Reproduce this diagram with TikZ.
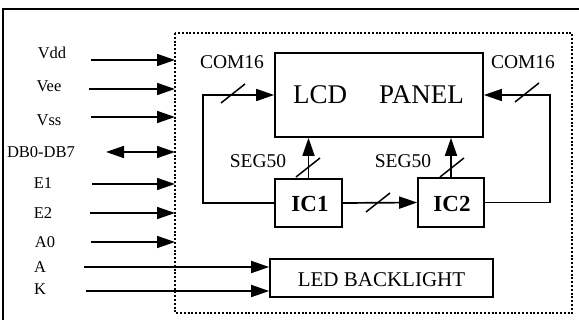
\documentclass[tikz,border=0pt]{standalone}
\usepackage{fontspec}
\setmainfont{Liberation Serif}
\usetikzlibrary{arrows.meta}
\begin{document}
\begin{tikzpicture}[x=1pt,y=-1pt,
  wire/.style={line width=1.7pt},
  arr/.style={wire,-{Triangle[length=18pt,width=12pt]}},
  darr/.style={wire,{Triangle[length=18pt,width=12pt]}-{Triangle[length=18pt,width=12pt]}},
  blk/.style={draw,line width=1.7pt,inner sep=0pt},
  sig/.style={anchor=base,font=\fontsize{16.5}{18}\selectfont,inner sep=0pt},
  lbl/.style={anchor=base,font=\fontsize{19.5}{22}\selectfont,inner sep=0pt},
  slash/.style={line width=1.5pt}]
\useasboundingbox (0,0) rectangle (579,320);
% outer frame
\draw[line width=1.6pt] (3,330) -- (3,9) -- (590,9);
% dotted module border
\draw[line width=2pt,dash pattern=on 2pt off 1.8pt] (175,33) rectangle (572,313);
% blocks
\node[blk,minimum width=208pt,minimum height=84pt] (lcd) at (379,95) {};
\node[anchor=base,font=\fontsize{27}{30}\selectfont,inner sep=0pt] (lcdt) at (378.5,104) {LCD\hspace{32pt}PANEL};
\node[blk,minimum width=67pt,minimum height=48pt] (ic1) at (308.5,203) {};
\node[anchor=base,font=\fontsize{23}{26}\selectfont\bfseries,inner sep=0pt] (ic1t) at (310,212) {IC1};
\node[blk,minimum width=66pt,minimum height=49pt] (ic2) at (451,202.5) {};
\node[anchor=base,font=\fontsize{23}{26}\selectfont\bfseries,inner sep=0pt] (ic2t) at (452,212) {IC2};
\node[blk,minimum width=223pt,minimum height=38pt] (led) at (381.5,278) {};
\node[anchor=base,font=\fontsize{21}{24}\selectfont,inner sep=0pt] (ledt) at (381.5,287) {LED BACKLIGHT};
% labels
\node[sig] (vdd) at (52,59) {Vdd};
\node[sig] (vee) at (49,92) {Vee};
\node[sig] (vss) at (49,126) {Vss};
\node[sig] (db) at (41,158) {DB0-DB7};
\node[sig] (e1) at (43,189) {E1};
\node[sig] (e2) at (43,219) {E2};
\node[sig] (a0) at (45,248) {A0};
\node[sig] (a) at (40,273) {A};
\node[sig] (k) at (40,295) {K};
\node[lbl] (coml) at (232,69) {COM16};
\node[lbl] (comr) at (523,69) {COM16};
\node[lbl] (segl) at (258,168) {SEG50};
\node[lbl] (segr) at (403,168) {SEG50};
% signal arrow endpoints
\coordinate (vdds) at (91,60);  \coordinate (vdde) at (175,60);
\coordinate (vees) at (89,89);  \coordinate (veee) at (175,89);
\coordinate (vsss) at (91,117); \coordinate (vsse) at (175,117);
\coordinate (dbs) at (106,152); \coordinate (dbe) at (175,152);
\coordinate (e1s) at (92,184);  \coordinate (e1e) at (175,184);
\coordinate (e2s) at (90,213);  \coordinate (e2e) at (175,213);
\coordinate (a0s) at (91,242);  \coordinate (a0e) at (175,242);
\coordinate (as) at (84,267);
\coordinate (ks) at (86,291);
\draw[arr] (vdds) -- (vdde);
\draw[arr] (vees) -- (veee);
\draw[arr] (vsss) -- (vsse);
\draw[darr] (dbs) -- (dbe);
\draw[arr] (e1s) -- (e1e);
\draw[arr] (e2s) -- (e2e);
\draw[arr] (a0s) -- (a0e);
\draw[arr] (as) -- (led.west |- as);
\draw[arr] (ks) -- (led.west |- ks);
% COM16 loops
\coordinate (cl) at (203,95);
\coordinate (cr) at (550,95);
\draw[arr] (ic1.west) -- (cl |- ic1.west) -- (cl) -- (lcd.west |- cl);
\draw[arr] (ic2.east) -- (cr |- ic2.east) -- (cr) -- (lcd.east |- cr);
% SEG50
\draw[arr] (ic1.north) -- (lcd.south -| ic1.north);
\draw[arr] (ic2.north) -- (lcd.south -| ic2.north);
% IC1 -> IC2
\draw[arr] (ic1.east) -- (ic2.west);
% bus slashes
\foreach \c in {(233,93.5),(527,92.5),(378,202.5),(308,167.5),(452,167.5)}
  \draw[slash] \c ++(-12,9.5) -- ++(24,-19);
\end{tikzpicture}
\end{document}
